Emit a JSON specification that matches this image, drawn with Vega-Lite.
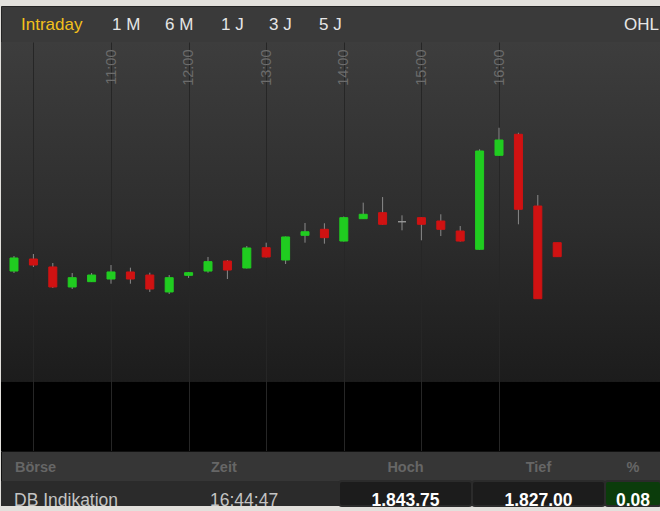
{
  "$schema": "https://vega.github.io/schema/vega-lite/v6.json",
  "background": "#e2e0dc",
  "padding": {"top": 5, "bottom": 6, "left": 0, "right": 0},
  "spacing": 0,
  "bounds": "flush",
  "config": {
    "view": {"stroke": null},
    "font": "Liberation Sans",
    "text": {"font": "Liberation Sans"}
  },
  "datasets": {
    "boxes": [
      {"k": "Hoch", "a": 2, "b": 3},
      {"k": "Tief", "a": 3, "b": 4},
      {"k": "%", "a": 4, "b": 5}
    ],
    "cells": [
      {"v": "DB Indikation", "s": 0, "side": "left"},
      {"v": "16:44:47", "s": 1, "side": "left"},
      {"v": "1.843,75", "s": 2.5, "side": "center"},
      {"v": "1.827,00", "s": 3.5, "side": "center"},
      {"v": "0,08", "s": 4.5, "side": "center"}
    ]
  },
  "vconcat": [
    {
      "width": 660,
      "height": 36,
      "view": {"fill": "#3a3a3a", "stroke": "#242424"},
      "data": {"values": [
        {"tab": "Intraday", "slot": 0},
        {"tab": "1 M", "slot": 1},
        {"tab": "6 M", "slot": 2},
        {"tab": "1 J", "slot": 3},
        {"tab": "3 J", "slot": 4},
        {"tab": "5 J", "slot": 5},
        {"tab": "OHL", "slot": 6}
      ]},
      "mark": {"type": "text", "align": "left", "baseline": "middle", "fontSize": 17, "dy": 1},
      "encoding": {
        "x": {"field": "slot", "type": "quantitative", "axis": null,
              "scale": {"domain": [0, 1, 2, 3, 4, 5, 6], "range": [20, 111, 164, 220, 268, 318, 623], "nice": false, "zero": false}},
        "text": {"field": "tab"},
        "color": {"condition": {"test": "datum.tab === 'Intraday'", "value": "#f2c01c"}, "value": "#e6e6e6"}
      }
    },
    {
      "width": 660,
      "height": 409,
      "view": {
        "fill": {"gradient": "linear", "x1": 0, "y1": 0, "x2": 0, "y2": 1,
                 "stops": [
                   {"offset": 0, "color": "#3d3d3d"},
                   {"offset": 0.45, "color": "#2d2d2d"},
                   {"offset": 0.83, "color": "#1c1c1c"},
                   {"offset": 0.8315, "color": "#000000"},
                   {"offset": 1, "color": "#000000"}
                 ]},
        "stroke": null
      },
      "data": {"values": [
        {"t": 9.75, "open": 1829.71, "high": 1831.18, "low": 1829.52, "close": 1830.99},
        {"t": 10.0, "open": 1830.89, "high": 1831.38, "low": 1830.11, "close": 1830.30},
        {"t": 10.25, "open": 1830.11, "high": 1830.50, "low": 1828.05, "close": 1828.15},
        {"t": 10.5, "open": 1828.15, "high": 1829.52, "low": 1827.95, "close": 1829.06},
        {"t": 10.75, "open": 1828.67, "high": 1829.52, "low": 1828.64, "close": 1829.32},
        {"t": 11.0, "open": 1828.93, "high": 1830.30, "low": 1828.47, "close": 1829.62},
        {"t": 11.25, "open": 1829.62, "high": 1830.04, "low": 1828.47, "close": 1828.93},
        {"t": 11.5, "open": 1829.32, "high": 1829.55, "low": 1827.66, "close": 1827.95},
        {"t": 11.75, "open": 1827.66, "high": 1829.32, "low": 1827.46, "close": 1829.06},
        {"t": 12.0, "open": 1829.29, "high": 1829.62, "low": 1829.03, "close": 1829.55},
        {"t": 12.25, "open": 1829.71, "high": 1831.09, "low": 1829.55, "close": 1830.63},
        {"t": 12.5, "open": 1830.69, "high": 1830.79, "low": 1828.93, "close": 1829.81},
        {"t": 12.75, "open": 1830.01, "high": 1832.16, "low": 1829.96, "close": 1831.97},
        {"t": 13.0, "open": 1832.00, "high": 1832.49, "low": 1831.04, "close": 1831.09},
        {"t": 13.25, "open": 1830.79, "high": 1833.09, "low": 1830.40, "close": 1833.05},
        {"t": 13.5, "open": 1833.21, "high": 1834.42, "low": 1832.49, "close": 1833.56},
        {"t": 13.75, "open": 1833.80, "high": 1834.39, "low": 1832.39, "close": 1832.98},
        {"t": 14.0, "open": 1832.65, "high": 1835.05, "low": 1832.60, "close": 1834.94},
        {"t": 14.25, "open": 1834.84, "high": 1836.41, "low": 1834.81, "close": 1835.27},
        {"t": 14.5, "open": 1835.43, "high": 1836.96, "low": 1834.24, "close": 1834.29},
        {"t": 14.75, "open": 1834.54, "high": 1835.17, "low": 1833.70, "close": 1834.54},
        {"t": 15.0, "open": 1834.94, "high": 1834.96, "low": 1832.72, "close": 1834.29},
        {"t": 15.25, "open": 1834.61, "high": 1835.27, "low": 1833.14, "close": 1833.80},
        {"t": 15.5, "open": 1833.63, "high": 1834.12, "low": 1832.60, "close": 1832.65},
        {"t": 15.75, "open": 1831.84, "high": 1841.64, "low": 1831.79, "close": 1841.47},
        {"t": 16.0, "open": 1841.05, "high": 1843.75, "low": 1841.00, "close": 1842.55},
        {"t": 16.25, "open": 1843.11, "high": 1843.26, "low": 1834.29, "close": 1835.76},
        {"t": 16.5, "open": 1836.08, "high": 1837.16, "low": 1827.00, "close": 1827.00},
        {"t": 16.75, "open": 1832.49, "high": 1832.49, "low": 1831.12, "close": 1831.12}
      ]},
      "encoding": {
        "x": {"field": "t", "type": "quantitative",
              "scale": {"domain": [9.5825, 18.0875], "nice": false, "zero": false, "padding": 0},
              "axis": {
                "orient": "top", "title": null, "values": [10, 11, 12, 13, 14, 15, 16],
                "labelExpr": "datum.value == 10 ? '' : datum.value + ':00'",
                "grid": true, "gridColor": "#262626", "gridWidth": 1, "gridOpacity": 1,
                "domain": false, "ticks": false, "tickSize": 0,
                "labelAngle": -90, "labelAlign": "right", "labelBaseline": "middle",
                "labelPadding": -7, "labelColor": "#6c6c6c", "labelFontSize": 14.5,
                "labelFont": "Liberation Sans", "labelBound": false, "labelFlush": false, "labelOverlap": false
              }},
        "y": {"field": "low", "type": "quantitative",
              "scale": {"domain": [1812.08, 1852.15], "nice": false, "zero": false, "padding": 0},
              "axis": null}
      },
      "layer": [
        {
          "mark": {"type": "rule", "color": "#8a8a8a", "strokeWidth": 1},
          "encoding": {"y": {"field": "low", "type": "quantitative"}, "y2": {"field": "high"}}
        },
        {
          "mark": {"type": "bar", "size": 8, "strokeWidth": 1},
          "encoding": {
            "y": {"field": "open", "type": "quantitative"},
            "y2": {"field": "close"},
            "fill": {"condition": [
              {"test": "datum.close > datum.open", "value": "#20cc20"},
              {"test": "datum.close < datum.open", "value": "#d01212"}
            ], "value": "#9a9a9a"},
            "stroke": {"condition": [
              {"test": "datum.close > datum.open", "value": "#20cc20"},
              {"test": "datum.close < datum.open", "value": "#d01212"}
            ], "value": "#9a9a9a"}
          }
        }
      ]
    },
    {
      "width": 660,
      "height": 30,
      "view": {"fill": "#363636", "stroke": "#111111"},
      "data": {"values": [
        {"h": "Börse", "s": 0, "side": "left"},
        {"h": "Zeit", "s": 1, "side": "left"},
        {"h": "Hoch", "s": 2.5, "side": "center"},
        {"h": "Tief", "s": 3.5, "side": "center"},
        {"h": "%", "s": 4.5, "side": "center"}
      ]},
      "encoding": {
        "x": {"field": "s", "type": "quantitative", "axis": null,
              "scale": {"domain": [0, 1, 2, 3, 4, 5], "range": [0, 196, 338, 471, 604, 660], "nice": false, "zero": false}},
        "text": {"field": "h"}
      },
      "layer": [
        {
          "transform": [{"filter": "datum.side === 'left'"}],
          "mark": {"type": "text", "align": "left", "baseline": "middle", "dx": 14, "dy": 1.5,
                   "fontSize": 14.5, "fontWeight": "bold", "color": "#666666"}
        },
        {
          "transform": [{"filter": "datum.side === 'center'"}],
          "mark": {"type": "text", "align": "center", "baseline": "middle", "dy": 1.5,
                   "fontSize": 14.5, "fontWeight": "bold", "color": "#666666"}
        }
      ]
    },
    {
      "width": 660,
      "height": 25,
      "view": {"fill": "#2b2b2b", "stroke": null},
      "encoding": {
        "x": {"type": "quantitative", "axis": null,
              "scale": {"domain": [0, 1, 2, 3, 4, 5], "range": [0, 196, 338, 471, 604, 660], "nice": false, "zero": false}}
      },
      "layer": [
        {
          "data": {"name": "boxes"},
          "mark": {"type": "rect", "stroke": "#2b2b2b", "strokeWidth": 2, "cornerRadius": 3},
          "encoding": {
            "x": {"field": "a", "type": "quantitative", "axis": null,
                  "scale": {"domain": [0, 1, 2, 3, 4, 5], "range": [0, 196, 338, 471, 604, 660], "nice": false, "zero": false}},
            "x2": {"field": "b"},
            "fill": {"condition": {"test": "datum.k === '%'", "value": "#0b3c0b"}, "value": "#1c1c1c"}
          }
        },
        {
          "data": {"name": "cells"},
          "transform": [{"filter": "datum.side === 'left'"}],
          "mark": {"type": "text", "align": "left", "baseline": "alphabetic", "dx": 13, "dy": 12,
                   "fontSize": 17.5, "color": "#c4c4c4", "clip": true},
          "encoding": {
            "x": {"field": "s", "type": "quantitative", "axis": null},
            "text": {"field": "v"}
          }
        },
        {
          "data": {"name": "cells"},
          "transform": [{"filter": "datum.side === 'center'"}],
          "mark": {"type": "text", "align": "center", "baseline": "alphabetic", "dy": 12,
                   "fontSize": 17.5, "fontWeight": "bold", "color": "#ffffff", "clip": true},
          "encoding": {
            "x": {"field": "s", "type": "quantitative", "axis": null},
            "text": {"field": "v"}
          }
        }
      ]
    }
  ]
}
